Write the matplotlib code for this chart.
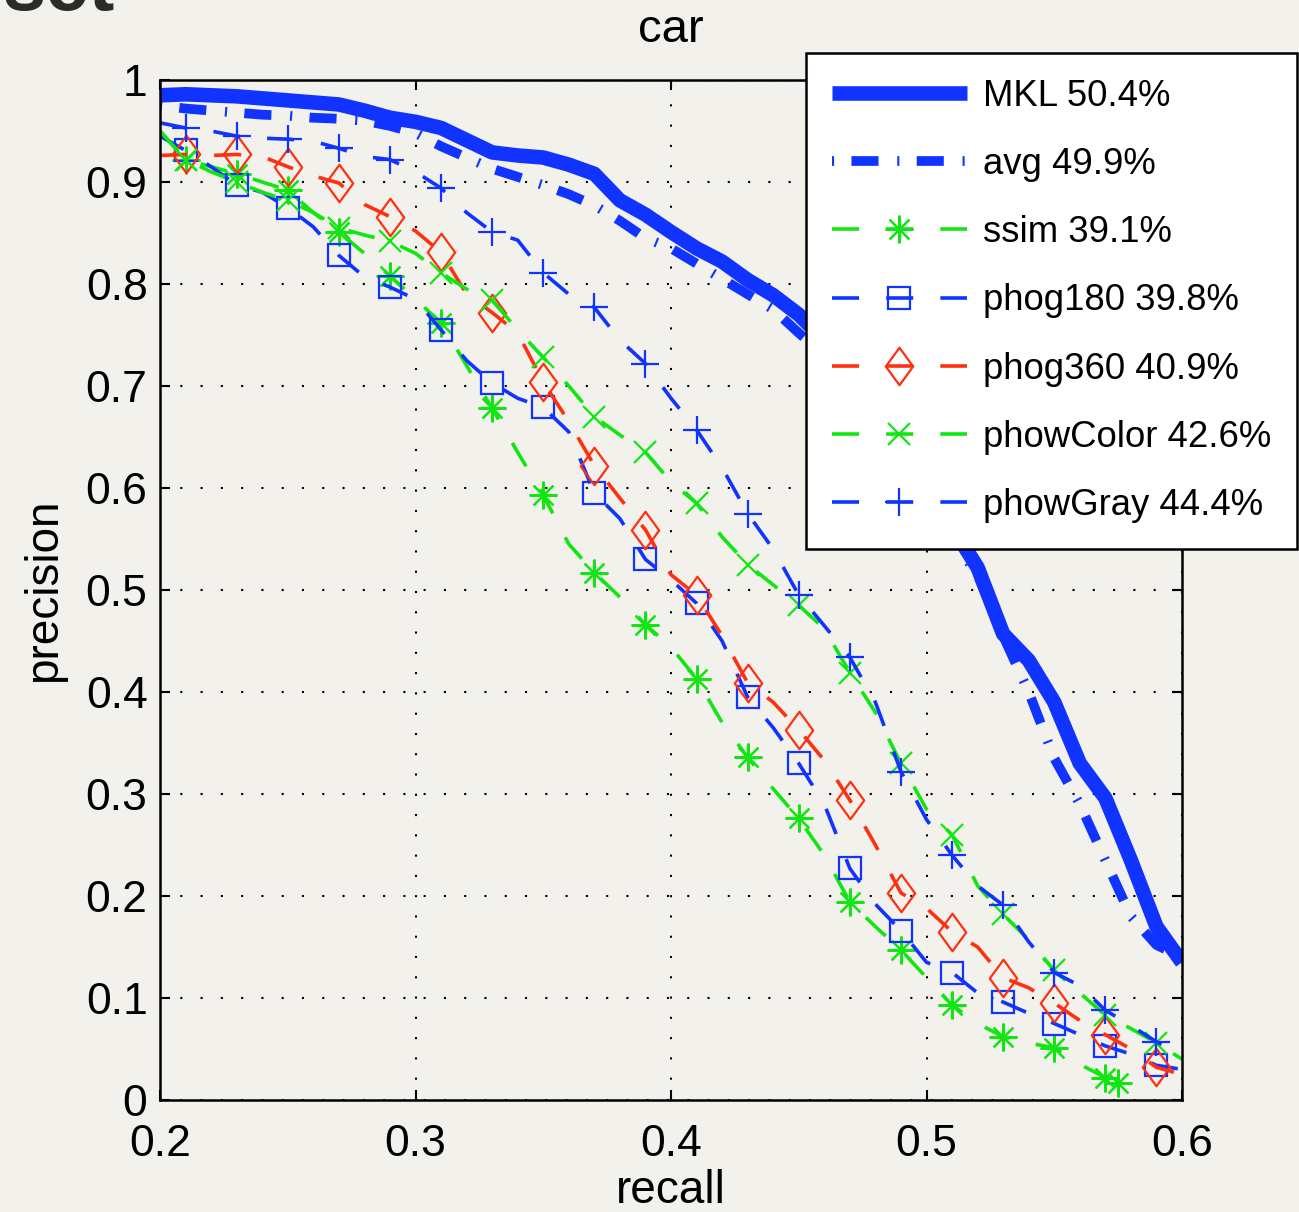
import numpy as np
import matplotlib.pyplot as plt
from matplotlib.path import Path

plt.rcParams['font.family'] = ['Liberation Sans', 'DejaVu Sans']
plt.rcParams['lines.scale_dashes'] = False

# recall grid (0.01 steps) and precision
recall = [0.20, 0.21, 0.22, 0.23, 0.24, 0.25, 0.26, 0.27, 0.28, 0.29,
          0.30, 0.31, 0.32, 0.33, 0.34, 0.35, 0.36, 0.37, 0.38, 0.39,
          0.40, 0.41, 0.42, 0.43, 0.44, 0.45, 0.46, 0.47, 0.48, 0.49,
          0.50, 0.51, 0.52, 0.53, 0.54, 0.55, 0.56, 0.57, 0.58, 0.59, 0.60]

mkl = [0.985, 0.986, 0.985, 0.984, 0.982, 0.980, 0.978, 0.976, 0.970, 0.963,
       0.959, 0.953, 0.941, 0.929, 0.926, 0.924, 0.917, 0.908, 0.882, 0.868,
       0.851, 0.835, 0.822, 0.804, 0.789, 0.770, 0.745, 0.706, 0.667, 0.632,
       0.598, 0.562, 0.522, 0.457, 0.431, 0.390, 0.330, 0.296, 0.235, 0.170, 0.135]

avg = [0.975, 0.972, 0.970, 0.968, 0.966, 0.965, 0.963, 0.962, 0.960, 0.955,
       0.948, 0.935, 0.924, 0.913, 0.905, 0.897, 0.888, 0.877, 0.862, 0.845,
       0.835, 0.820, 0.805, 0.790, 0.775, 0.752, 0.730, 0.700, 0.660, 0.625,
       0.590, 0.550, 0.515, 0.455, 0.400, 0.335, 0.290, 0.235, 0.180, 0.152, 0.140]

ssim_recall = [0.20, 0.21, 0.22, 0.23, 0.24, 0.25, 0.26, 0.27, 0.28, 0.29,
               0.30, 0.31, 0.32, 0.33, 0.34, 0.35, 0.36, 0.37, 0.38, 0.39,
               0.40, 0.41, 0.42, 0.43, 0.44, 0.45, 0.46, 0.47, 0.48, 0.49,
               0.50, 0.51, 0.52, 0.53, 0.54, 0.55, 0.56, 0.57, 0.575]
ssim = [0.950, 0.922, 0.915, 0.908, 0.900, 0.892, 0.870, 0.851, 0.830, 0.808,
        0.785, 0.762, 0.720, 0.678, 0.635, 0.593, 0.545, 0.517, 0.493, 0.466,
        0.444, 0.413, 0.370, 0.336, 0.305, 0.276, 0.240, 0.194, 0.170, 0.147,
        0.120, 0.093, 0.075, 0.062, 0.056, 0.051, 0.035, 0.022, 0.017]

phog180 = [0.945, 0.931, 0.915, 0.897, 0.890, 0.875, 0.856, 0.828, 0.807, 0.797,
           0.785, 0.755, 0.725, 0.703, 0.688, 0.679, 0.655, 0.595, 0.570, 0.530,
           0.510, 0.487, 0.450, 0.395, 0.365, 0.330, 0.290, 0.227, 0.192, 0.166,
           0.135, 0.125, 0.105, 0.096, 0.085, 0.075, 0.064, 0.053, 0.045, 0.034, 0.030]

phog360 = [0.926, 0.927, 0.926, 0.927, 0.925, 0.915, 0.906, 0.899, 0.878, 0.866,
           0.852, 0.831, 0.790, 0.772, 0.752, 0.704, 0.665, 0.622, 0.590, 0.559,
           0.515, 0.495, 0.455, 0.409, 0.390, 0.363, 0.333, 0.294, 0.250, 0.203,
           0.188, 0.165, 0.150, 0.120, 0.110, 0.095, 0.078, 0.064, 0.050, 0.032, 0.025]

phowColor = [0.950, 0.922, 0.910, 0.900, 0.890, 0.882, 0.870, 0.855, 0.848, 0.842,
             0.830, 0.811, 0.795, 0.784, 0.755, 0.728, 0.700, 0.670, 0.652, 0.635,
             0.606, 0.585, 0.552, 0.525, 0.505, 0.485, 0.462, 0.419, 0.380, 0.330,
             0.285, 0.260, 0.210, 0.182, 0.157, 0.127, 0.105, 0.083, 0.070, 0.056, 0.040]

phowGray = [0.958, 0.953, 0.950, 0.945, 0.943, 0.942, 0.940, 0.933, 0.925, 0.922,
            0.910, 0.894, 0.870, 0.851, 0.843, 0.811, 0.790, 0.777, 0.745, 0.722,
            0.688, 0.657, 0.620, 0.575, 0.540, 0.495, 0.465, 0.434, 0.390, 0.322,
            0.275, 0.240, 0.210, 0.191, 0.155, 0.125, 0.112, 0.088, 0.073, 0.057, 0.045]

labels = ['MKL 50.4%', 'avg 49.9%', 'ssim 39.1%', 'phog180 39.8%',
          'phog360 40.9%', 'phowColor 42.6%', 'phowGray 44.4%']

BLUE = '#1033ff'
GREEN = '#12e612'
RED = '#ff3010'
BG = '#f2f1ec'

# matlab style tall diamond
diamond = Path([(0, 1), (0.73, 0), (0, -1), (-0.73, 0), (0, 1)],
               [Path.MOVETO, Path.LINETO, Path.LINETO, Path.LINETO, Path.CLOSEPOLY])

fig = plt.figure(figsize=(12.99, 12.12), dpi=100, facecolor=BG)
ax = fig.add_axes([160 / 1299, 1 - 1100 / 1212, 1022 / 1299, 1020 / 1212])
ax.set_facecolor(BG)

dash = (19.5, 19.5)
odd = (1, 2)
common = dict(lw=2.6, mfc='none', mew=1.6)

ax.plot(recall, mkl, color=BLUE, lw=10.5, solid_capstyle='butt', label=labels[0])
ax.plot(recall, avg, color=BLUE, lw=7, dashes=(1.5, 12.5, 19.5, 13.5), label=labels[1])
ax.plot(ssim_recall, ssim, color=GREEN, dashes=dash, marker=(8, 2, 0), ms=20,
        markevery=list(range(1, 38, 2)) + [38], label=labels[2], **common)
ax.plot(recall, phog180, color=BLUE, dashes=dash, marker='s', ms=16.5,
        markevery=odd, label=labels[3], **common)
ax.plot(recall, phog360, color=RED, dashes=dash, marker=diamond, ms=27,
        markevery=odd, label=labels[4], **common)
ax.plot(recall, phowColor, color=GREEN, dashes=dash, marker='x', ms=16,
        markevery=odd, label=labels[5], **common)
ax.plot(recall, phowGray, color=BLUE, dashes=dash, marker='+', ms=20,
        markevery=odd, label=labels[6], **common)

ax.set_xlim(0.2, 0.6)
ax.set_ylim(0, 1)
xt = [0.2, 0.3, 0.4, 0.5, 0.6]
yt = [0, 0.1, 0.2, 0.3, 0.4, 0.5, 0.6, 0.7, 0.8, 0.9, 1]
ax.set_xticks(xt)
ax.set_xticklabels(['%g' % v for v in xt])
ax.set_yticks(yt)
ax.set_yticklabels(['%g' % v for v in yt])
ax.tick_params(direction='in', length=7, width=1.5, labelsize=32,
               top=True, right=True)
ax.tick_params(axis='x', pad=17)
ax.tick_params(axis='y', pad=9)
ax.grid(True, color='black', lw=1.5, linestyle=(0, (1.5, 13.1)))
ax.set_axisbelow(True)
for sp in ax.spines.values():
    sp.set_linewidth(1.8)

ax.set_xlabel('recall', fontsize=33, labelpad=3)
ax.set_ylabel('precision', fontsize=33, labelpad=14)
ax.set_title('car', fontsize=34, pad=27)

leg = fig.legend(loc='upper left', bbox_to_anchor=(806 / 1299, 1 - 53 / 1212),
                 bbox_transform=fig.transFigure, borderaxespad=0, fontsize=26.3,
                 handlelength=3.7, handletextpad=0.44, borderpad=0.7,
                 labelspacing=0.91, numpoints=1, fancybox=False, framealpha=1,
                 facecolor='white', edgecolor='black')
leg.get_frame().set_linewidth(1.8)

# cropped heading of the original page
fig.text(115 / 1299, 1 - 10 / 1212, 'set', ha='right', va='baseline',
         fontsize=56, fontweight='bold', color='#2b2b2b')

fig.savefig('out.png', dpi=100, facecolor=BG)
